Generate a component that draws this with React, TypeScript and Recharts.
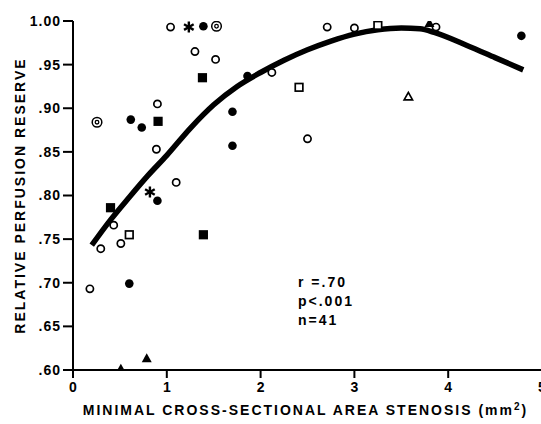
import React from "react";
import { ScatterChart, Scatter, XAxis, YAxis } from "recharts";

const font = "'Liberation Sans', Arial, Helvetica, sans-serif";

// axis ticks
const xTicks = [0, 1, 2, 3, 4, 5];
const yTicks = [0.6, 0.65, 0.7, 0.75, 0.8, 0.85, 0.9, 0.95, 1.0];

// open circles
const openCircleX = [1.04, 1.3, 1.52, 0.9, 0.889, 1.1, 0.434, 0.51, 0.296, 0.18, 2.71, 2.12, 2.5, 3.0, 3.87];
const openCircleY = [0.993, 0.965, 0.956, 0.905, 0.853, 0.815, 0.766, 0.745, 0.739, 0.693, 0.993, 0.941, 0.865, 0.992, 0.993];

// filled circles
const filledCircleX = [1.39, 0.616, 0.733, 1.7, 1.7, 0.9, 0.6, 1.86, 4.78];
const filledCircleY = [0.994, 0.887, 0.878, 0.896, 0.857, 0.794, 0.699, 0.937, 0.983];

// filled squares
const filledSquareX = [1.38, 0.907, 0.4, 1.39];
const filledSquareY = [0.935, 0.885, 0.786, 0.755];

// open squares
const openSquareX = [0.6, 2.41, 3.25];
const openSquareY = [0.755, 0.924, 0.995];

// filled triangles
const filledTriangleX = [0.786, 0.51, 3.8];
const filledTriangleY = [0.613, 0.601, 0.997];

// open triangle
const openTriangleX = [3.575];
const openTriangleY = [0.913];

// asterisks
const asteriskX = [1.235, 0.82];
const asteriskY = [0.993, 0.804];

// double circles
const ringX = [1.53, 0.256];
const ringY = [0.994, 0.884];

// fitted curve
const curveX = [0.2, 0.4, 0.6, 0.8, 1.0, 1.25, 1.5, 1.75, 2.0, 2.25, 2.5, 2.75, 3.0, 3.25, 3.5, 3.7, 3.85, 4.2, 4.5, 4.8];
const curveY = [0.743, 0.772, 0.798, 0.823, 0.846, 0.877, 0.904, 0.925, 0.941, 0.955, 0.967, 0.977, 0.985, 0.99, 0.992, 0.991, 0.987, 0.972, 0.958, 0.944];

const statsLines = ["r =.70", "p<.001", "n=41"];

const toPoints = (xs: number[], ys: number[]) => xs.map((x, i) => ({ x, y: ys[i] }));

const OpenCircle = (p: any) => <circle cx={p.cx} cy={p.cy} r={3.6} fill="#fff" stroke="#000" strokeWidth={1.7} />;
const FilledCircle = (p: any) => <circle cx={p.cx} cy={p.cy} r={4.3} fill="#000" />;
const FilledSquare = (p: any) => <rect x={p.cx - 4.6} y={p.cy - 4.6} width={9.2} height={9.2} fill="#000" />;
const OpenSquare = (p: any) => (
    <rect x={p.cx - 3.8} y={p.cy - 3.8} width={7.6} height={7.6} fill="#fff" stroke="#000" strokeWidth={1.7} />
);
const FilledTriangle = (p: any) => (
    <path d={`M${p.cx},${p.cy - 5.5}L${p.cx + 5},${p.cy + 3.5}L${p.cx - 5},${p.cy + 3.5}Z`} fill="#000" />
);
const OpenTriangle = (p: any) => (
    <path d={`M${p.cx},${p.cy - 4.5}L${p.cx + 4.2},${p.cy + 3}L${p.cx - 4.2},${p.cy + 3}Z`} fill="#fff" stroke="#000" strokeWidth={1.7} />
);
const Asterisk = (p: any) => (
    <g stroke="#000" strokeWidth={2.4}>
        <line x1={p.cx} y1={p.cy - 5.5} x2={p.cx} y2={p.cy + 5.5} />
        <line x1={p.cx - 4.8} y1={p.cy - 2.8} x2={p.cx + 4.8} y2={p.cy + 2.8} />
        <line x1={p.cx - 4.8} y1={p.cy + 2.8} x2={p.cx + 4.8} y2={p.cy - 2.8} />
    </g>
);
const Ring = (p: any) => (
    <g fill="none" stroke="#000">
        <circle cx={p.cx} cy={p.cy} r={4.8} strokeWidth={1.5} />
        <circle cx={p.cx} cy={p.cy} r={1.8} strokeWidth={1.3} />
    </g>
);
const NoShape = () => <g />;

const fmtY = (v: number) => (v >= 1 ? "1.00" : v.toFixed(2).replace(/^0/, ""));

const YTitle = (props: any) => {
    const vb = props.viewBox;
    const cx = 20;
    const cy = vb.y + vb.height / 2;
    return (
        <text
            x={cx}
            y={cy}
            transform={`rotate(-90 ${cx} ${cy})`}
            textAnchor="middle"
            dominantBaseline="central"
            fontFamily={font}
            fontWeight={700}
            fontSize={14}
            letterSpacing={2}
            fill="#000"
        >
            RELATIVE PERFUSION RESERVE
        </text>
    );
};

const XTitle = (props: any) => {
    const vb = props.viewBox;
    const cx = vb.x + vb.width / 2 - 2;
    return (
        <g fontFamily={font} fontWeight={700} fill="#000">
            <text x={cx} y={415} textAnchor="middle" fontSize={14} letterSpacing={2}>
                MINIMAL CROSS-SECTIONAL AREA STENOSIS (mm
                <tspan fontSize={10} dy={-5}>2</tspan>
                <tspan dy={5}>)</tspan>
            </text>
            {statsLines.map((s, i) => (
                <text key={s} x={298} y={287 + i * 19} fontSize={14} letterSpacing={2}>
                    {s}
                </text>
            ))}
        </g>
    );
};

export default function App() {
    return (
        <div style={{ position: "absolute", left: 0, top: 0, width: 541, height: 424, overflow: "hidden", background: "#fff" }}>
            <ScatterChart width={552} height={424} margin={{ top: 21, right: 10, bottom: 0, left: 0 }}>
                <XAxis
                    type="number"
                    dataKey="x"
                    domain={[0, 5]}
                    ticks={xTicks}
                    interval={0}
                    height={54}
                    tickSize={8}
                    tickMargin={4}
                    axisLine={{ stroke: "#000", strokeWidth: 2 }}
                    tickLine={{ stroke: "#000", strokeWidth: 2 }}
                    tick={{ fill: "#000", fontSize: 14, fontWeight: 700, fontFamily: font }}
                    label={<XTitle />}
                />
                <YAxis
                    type="number"
                    dataKey="y"
                    domain={[0.6, 1.0]}
                    ticks={yTicks}
                    interval={0}
                    width={73}
                    tickSize={10}
                    tickMargin={2}
                    tickFormatter={fmtY}
                    axisLine={{ stroke: "#000", strokeWidth: 2 }}
                    tickLine={{ stroke: "#000", strokeWidth: 2 }}
                    tick={{ fill: "#000", fontSize: 14, fontWeight: 700, fontFamily: font, letterSpacing: 1 }}
                    allowDataOverflow
                    label={<YTitle />}
                />
                <Scatter
                    data={toPoints(curveX, curveY)}
                    line={{ stroke: "#000", strokeWidth: 5.5 }}
                    lineJointType="monotoneX"
                    shape={NoShape}
                    isAnimationActive={false}
                />
                <Scatter data={toPoints(openCircleX, openCircleY)} shape={OpenCircle} isAnimationActive={false} />
                <Scatter data={toPoints(filledCircleX, filledCircleY)} shape={FilledCircle} isAnimationActive={false} />
                <Scatter data={toPoints(filledSquareX, filledSquareY)} shape={FilledSquare} isAnimationActive={false} />
                <Scatter data={toPoints(openSquareX, openSquareY)} shape={OpenSquare} isAnimationActive={false} />
                <Scatter data={toPoints(filledTriangleX, filledTriangleY)} shape={FilledTriangle} isAnimationActive={false} />
                <Scatter data={toPoints(openTriangleX, openTriangleY)} shape={OpenTriangle} isAnimationActive={false} />
                <Scatter data={toPoints(asteriskX, asteriskY)} shape={Asterisk} isAnimationActive={false} />
                <Scatter data={toPoints(ringX, ringY)} shape={Ring} isAnimationActive={false} />
            </ScatterChart>
        </div>
    );
}
